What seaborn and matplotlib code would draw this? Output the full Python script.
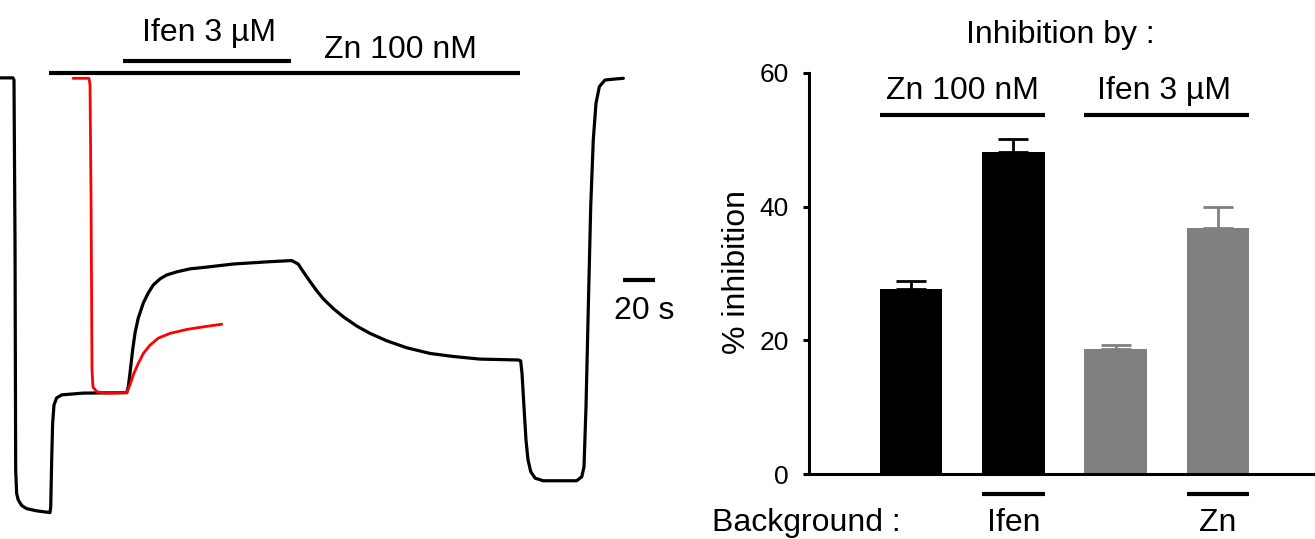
import numpy as np
import pandas as pd
import matplotlib
matplotlib.use("Agg")
import matplotlib.pyplot as plt
import seaborn as sns

# ---------------- data ----------------
# Current trace (time in s, current in % of peak response)
black_t = [0, 8.1, 8.75, 9.4, 9.8, 10.4, 11.4, 13.6, 16.7, 22.9, 31.25,
           31.7, 32.3, 32.9, 33.75, 35.4, 38.6, 52.1, 79.2,
           80.2, 81.25, 82.9, 84.4, 86.4, 89.6, 92.7, 95.8, 100, 104.2, 110.4, 118.75,
           129.2, 145.6, 166.7, 182.3,
           186.4, 189.6, 193.75, 197.9, 202.1, 208.3, 214.6, 222.9, 231.25, 241.7,
           254.2, 268.75, 283.3, 300, 323.9,
           325.4, 326.25, 327.5, 328.75, 330, 331.7, 334.4, 339.4, 360.4, 363.6, 365,
           366.25, 367.7, 369.2, 370.8, 372.5, 374.6, 378.1, 383.3, 389.6]
black_i = [-0.2, -0.2, -0.7, -39.2, -90.1, -95.5, -97.0, -98.3, -99.0, -99.5, -99.9,
           -98.6, -87.8, -79.4, -75.2, -73.6, -72.9, -72.5, -72.4,
           -71.0, -67.9, -62.6, -58.7, -55.3, -51.8, -49.5, -47.7, -46.3, -45.4, -44.7, -44.0,
           -43.6, -42.9, -42.4, -42.1,
           -42.9, -44.7, -46.9, -49.0, -50.9, -53.1, -55.0, -57.1, -58.8, -60.5,
           -62.1, -63.4, -64.1, -64.7, -64.9,
           -65.1, -67.9, -75.7, -83.3, -87.8, -90.5, -92.0, -92.6, -92.6, -91.7, -89.4,
           -75.7, -52.7, -29.7, -14.4, -6.0, -2.2, -0.7, -0.5, -0.3]

red_t = [45.6, 55.6, 56.25, 56.9, 57.5, 58.1, 60.6, 65.6, 79.2, 81.25, 83.3, 86.4, 89.6,
         93.75, 98.9, 106.25, 116.7, 127.1, 138.6]
red_i = [-0.3, -0.3, -1.8, -27.8, -67.2, -71.1, -72.2, -72.5, -72.4, -70.6, -68.3, -65.7,
         -63.4, -61.5, -59.9, -58.8, -57.9, -57.3, -56.7]

# Drug applications (s)
ifen_on, ifen_off = 76.9, 181.9
zn_on, zn_off = 30.6, 325.0
scale_s = 20

# Bar chart
conditions = ["Zn", "Zn / Ifen bg", "Ifen", "Ifen / Zn bg"]
inhibition = [27.7, 48.1, 18.7, 36.8]
sem = [1.2, 2.0, 0.6, 3.2]
bar_colors = ["#000000", "#000000", "#808080", "#808080"]
yticks = [0, 20, 40, 60]

# ---------------- style ----------------
sns.set_theme(style="white")
plt.rcParams["font.family"] = ["Liberation Sans", "DejaVu Sans"]
plt.rcParams["text.color"] = "black"
plt.rcParams["axes.labelcolor"] = "black"
plt.rcParams["ytick.color"] = "black"
plt.rcParams["xtick.color"] = "black"
FS = 23

fig = plt.figure(figsize=(13.15, 5.39), dpi=100)

# ---------------- left: trace ----------------
axL = fig.add_axes([0, 0, 680 / 1315, 1])
trace_black = pd.DataFrame({"t": black_t, "I": black_i})
trace_red = pd.DataFrame({"t": red_t, "I": red_i})
sns.lineplot(data=trace_black, x="t", y="I", sort=False, estimator=None,
             color="black", lw=2.3, ax=axL)
sns.lineplot(data=trace_red, x="t", y="I", sort=False, estimator=None,
             color="#ff0000", lw=2.0, ax=axL)
axL.set_xlim(0, 425)
axL.set_ylim(-105.96, 17.66)
axL.axis("off")

axL.plot([ifen_on, ifen_off], [3.74, 3.74], color="black", lw=3, solid_capstyle="butt")
axL.plot([zn_on, zn_off], [0.92, 0.92], color="black", lw=3, solid_capstyle="butt")
axL.text((ifen_on + ifen_off) / 2 + 1.5, 8.3, "Ifen 3 µM", ha="center", va="baseline",
         fontsize=FS, color="black")
axL.text(250, 4.4, "Zn 100 nM", ha="center", va="baseline", fontsize=FS, color="black")
axL.plot([389.4, 389.4 + scale_s], [-46.6, -46.6], color="black", lw=3, solid_capstyle="butt")
axL.text(402.5, -55.6, f"{scale_s} s", ha="center", va="baseline", fontsize=FS, color="black")

# ---------------- right: bars ----------------
axB = fig.add_axes([809 / 1315, 1 - 474.3 / 539, (1315 - 809) / 1315, (474.3 - 72.7) / 539])
bars_df = pd.DataFrame({"cond": conditions, "inh": inhibition})
W = 0.61
sns.barplot(data=bars_df, x="cond", y="inh", hue="cond", palette=bar_colors,
            order=conditions, hue_order=conditions, width=W, legend=False,
            errorbar=None, linewidth=0, saturation=1, ax=axB)
for i, (v, e, c) in enumerate(zip(inhibition, sem, bar_colors)):
    axB.errorbar(i, v, yerr=[[0], [e]], fmt="none", ecolor=c, elinewidth=2,
                 capsize=11, capthick=2, zorder=3)

axB.set_xlim(-1.0, 3.95)
axB.set_ylim(0, 60)
axB.set_yticks(yticks)
axB.set_xticks([])
axB.set_xlabel("")
axB.set_ylabel("")
for s in ["top", "right"]:
    axB.spines[s].set_visible(False)
for s in ["left", "bottom"]:
    axB.spines[s].set_linewidth(2.2)
    axB.spines[s].set_color("black")
axB.tick_params(axis="y", direction="out", length=4.5, width=2.2, pad=10,
                labelsize=19, left=True, colors="black", labelcolor="black")
axB.grid(False)

fig.text(737 / 1315, 1 - 272 / 539, "% inhibition", rotation=90, ha="center",
         va="center", fontsize=FS, color="black")

kw = dict(color="black", lw=3, solid_capstyle="butt", clip_on=False)
axB.plot([0 - W / 2, 1 + W / 2], [53.7, 53.7], **kw)
axB.plot([2 - W / 2, 3 + W / 2], [53.7, 53.7], **kw)
axB.text(0.5, 56.05, "Zn 100 nM", ha="center", va="baseline", fontsize=FS, color="black")
axB.text(2.47, 56.05, "Ifen 3 µM", ha="center", va="baseline", fontsize=FS, color="black")
axB.text(1.46, 64.4, "Inhibition by :", ha="center", va="baseline", fontsize=FS, color="black")

axB.plot([1 - W / 2, 1 + W / 2], [-2.95, -2.95], **kw)
axB.plot([3 - W / 2, 3 + W / 2], [-2.95, -2.95], **kw)
axB.text(-1.945, -8.48, "Background :", ha="left", va="baseline", fontsize=FS, color="black")
axB.text(1, -8.48, "Ifen", ha="center", va="baseline", fontsize=FS, color="black")
axB.text(3, -8.48, "Zn", ha="center", va="baseline", fontsize=FS, color="black")

fig.savefig("out.png", dpi=100)
